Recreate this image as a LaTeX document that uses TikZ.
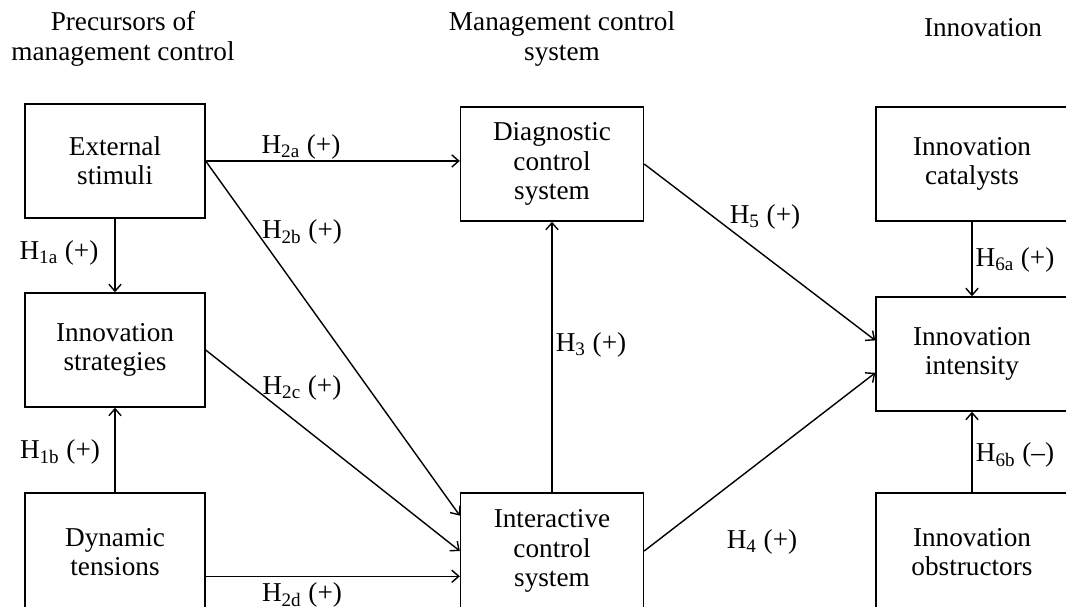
\documentclass[tikz,border=0pt]{standalone}
\usepackage{fontspec}
\setmainfont{Liberation Serif}
\usetikzlibrary{arrows.meta}
\tikzset{
  box/.style={draw, thick, align=center, inner sep=0pt,
    minimum height=2.28cm, font=\fontsize{15.5}{16.6}\selectfont},
  hyp/.style={font=\fontsize{15.5}{16.6}\selectfont, inner sep=0pt},
  link/.style={thick, -{Straight Barb[length=4pt, width=7pt]}}
}
\begin{document}
\begin{tikzpicture}[x=0.02cm, y=-0.02cm]
    % Page frame (pixel units, y downwards)
    \useasboundingbox (0, 0) rectangle (1066, 607);

    % Column headings
    \node[hyp, align=center, font=\fontsize{15.5}{17}\selectfont] (headpre) at (123, 39) {Precursors of\\management control};
    \node[hyp, align=center, font=\fontsize{15.5}{17}\selectfont] (headmcs) at (562, 39) {Management control\\system};
    \node[hyp] (headinn) at (983, 28) {Innovation};

    % Precursors
    \node[box, minimum width=3.6cm] (ext) at (115, 161) {External\\stimuli};
    \node[box, minimum width=3.6cm] (strat) at (115, 350) {Innovation\\strategies};
    \node[box, minimum width=3.6cm, minimum height=2.36cm] (dyn) at (115, 552) {Dynamic\\tensions};

    % Management control system
    \node[box, minimum width=3.66cm] (diag) at (552, 164) {Diagnostic\\control\\system};
    \node[box, minimum width=3.66cm, minimum height=2.32cm] (inter) at (552, 551) {Interactive\\control\\system};

    % Innovation
    \node[box, minimum width=3.84cm] (cat) at (972, 164) {Innovation\\catalysts};
    \node[box, minimum width=3.84cm] (inten) at (972, 354) {Innovation\\intensity};
    \node[box, minimum width=3.84cm, minimum height=2.36cm] (obs) at (972, 552) {Innovation\\obstructors};

    % Hypotheses
    \draw[link] (ext.south) -- (strat.north);
    \draw[link] (dyn.north) -- (strat.south);
    \draw[link] (ext.east) -- (ext.east -| diag.west);
    \draw[link] (ext.east) -- (inter.159);
    \draw[link] (strat.east) -- (inter.west);
    \draw[link] (dyn.345) -- (dyn.345 -| inter.west);
    \draw[link] (inter.north) -- (diag.south);
    \draw[link] (diag.east) -- (inten.172);
    \draw[link] (inter.east) -- (inten.191);
    \draw[link] (cat.south) -- (inten.north);
    \draw[link] (obs.north) -- (inten.south);

    % Hypothesis labels
    \node[hyp] (h1a) at (59, 253) {H\textsubscript{1a} (+)};
    \node[hyp] (h1b) at (60, 452) {H\textsubscript{1b} (+)};
    \node[hyp] (h2a) at (301, 147) {H\textsubscript{2a} (+)};
    \node[hyp] (h2b) at (302, 232) {H\textsubscript{2b} (+)};
    \node[hyp] (h2c) at (302, 388) {H\textsubscript{2c} (+)};
    \node[hyp] (h2d) at (302, 595) {H\textsubscript{2d} (+)};
    \node[hyp] (h3) at (591, 345) {H\textsubscript{3} (+)};
    \node[hyp] (h4) at (762, 542) {H\textsubscript{4} (+)};
    \node[hyp] (h5) at (765, 217) {H\textsubscript{5} (+)};
    \node[hyp] (h6a) at (1015, 260) {H\textsubscript{6a} (+)};
    \node[hyp] (h6b) at (1015, 455) {H\textsubscript{6b} (--)};
\end{tikzpicture}
\end{document}
